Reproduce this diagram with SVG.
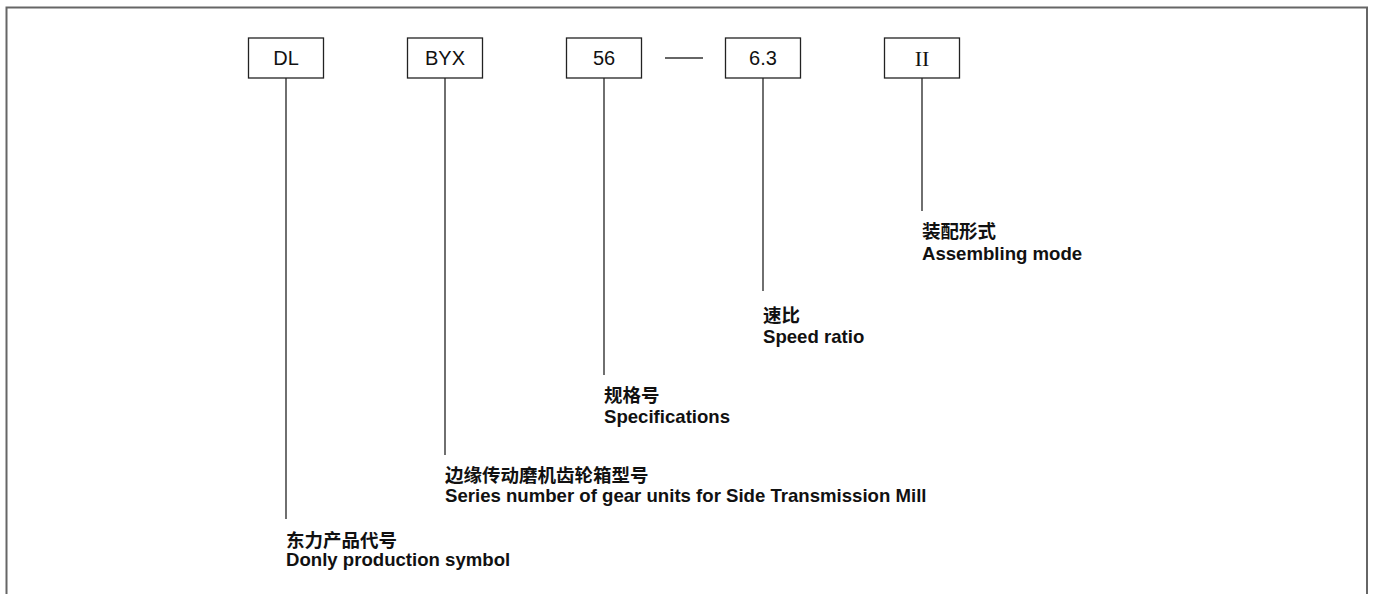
<svg xmlns="http://www.w3.org/2000/svg" width="1373" height="594" viewBox="0 0 1373 594">
<style>
.box{fill:#fff;stroke:#222;stroke-width:1.3}
.ln{stroke:#333;stroke-width:1.4;fill:none}
.bt{font-family:"Liberation Sans",Arial,sans-serif;font-size:20px;fill:#111;text-anchor:middle}
.bs{font-family:"Liberation Serif","Times New Roman",serif;font-size:22px;fill:#111;text-anchor:middle}
.cn{font-family:"Liberation Sans","Noto Sans CJK SC",sans-serif;font-size:18.5px;fill:#111;font-weight:bold}
.en{font-family:"Liberation Sans",Arial,sans-serif;font-size:18.6px;font-weight:bold;fill:#111}
</style>
<rect width="1373" height="594" fill="#fff"/>
<path d="M6.5,594 V7.5 H1367 V594" fill="none" stroke="#666" stroke-width="2"/>
<g id="connectors">
<line class="ln" x1="286" y1="78" x2="286" y2="519"/>
<line class="ln" x1="445" y1="78" x2="445" y2="455"/>
<line class="ln" x1="604" y1="78" x2="604" y2="375"/>
<line class="ln" x1="763" y1="78" x2="763" y2="291"/>
<line class="ln" x1="922" y1="78" x2="922" y2="211"/>
<line class="ln" x1="665" y1="58" x2="703" y2="58"/>
</g>
<g id="node-dl"><rect class="box" x="248.5" y="38" width="75" height="40"/><text class="bt" x="286" y="65">DL</text></g>
<g id="node-byx"><rect class="box" x="407.5" y="38" width="75" height="40"/><text class="bt" x="445" y="65">BYX</text></g>
<g id="node-56"><rect class="box" x="566.5" y="38" width="75" height="40"/><text class="bt" x="604" y="65">56</text></g>
<g id="node-63"><rect class="box" x="725.5" y="38" width="75" height="40"/><text class="bt" x="763" y="65">6.3</text></g>
<g id="node-ii"><rect class="box" x="884.5" y="38" width="75" height="40"/><text class="bs" x="922" y="66">II</text></g>
<g id="label-dl"><text class="cn" x="286" y="547">东力产品代号</text><text class="en" x="286" y="566">Donly production symbol</text></g>
<g id="label-byx"><text class="cn" x="445" y="482">边缘传动磨机齿轮箱型号</text><text class="en" x="445" y="502">Series number of gear units for Side Transmission Mill</text></g>
<g id="label-56"><text class="cn" x="604" y="402">规格号</text><text class="en" x="604" y="423">Specifications</text></g>
<g id="label-63"><text class="cn" x="763" y="322">速比</text><text class="en" x="763" y="343">Speed ratio</text></g>
<g id="label-ii"><text class="cn" x="922" y="238">装配形式</text><text class="en" x="922" y="260">Assembling mode</text></g>
</svg>
